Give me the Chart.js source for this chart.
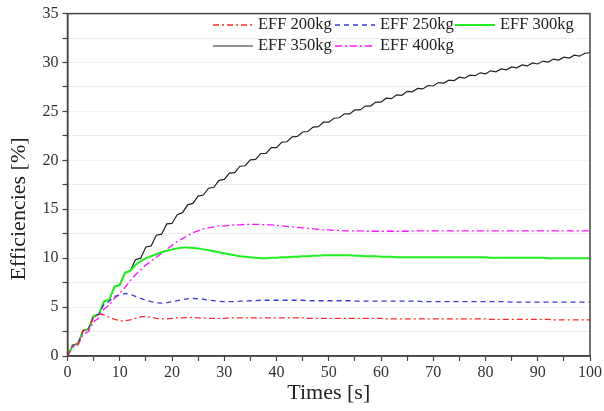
<!DOCTYPE html>
<html>
<head>
<meta charset="utf-8">
<script src="https://cdn.jsdelivr.net/npm/chart.js@4"></script>
<style>
  html, body { margin: 0; padding: 0; background: #fff; }
  #wrap { width: 604px; height: 411px; }
</style>
</head>
<body>
<div id="wrap"><canvas id="chart" width="604" height="411"></canvas></div>
<script>
// time axis, one sample per second
const times = Array.from({ length: 101 }, (_, i) => i);

const seriesLabels = ['EFF 200kg', 'EFF 250kg', 'EFF 300kg', 'EFF 350kg', 'EFF 400kg'];

const eff200 = [
  0, 1.1, 1.25, 2.6, 2.75, 3.9, 4.3, 4.2, 3.95, 3.75,
  3.6, 3.6, 3.7, 3.85, 4.0, 4.05, 3.95, 3.85, 3.8, 3.8,
  3.85, 3.9, 3.9, 3.95, 3.95, 3.9, 3.9, 3.85, 3.85, 3.85,
  3.85, 3.9, 3.9, 3.9, 3.9, 3.9, 3.9, 3.9, 3.9, 3.9,
  3.9, 3.9, 3.9, 3.9, 3.9, 3.9, 3.85, 3.85, 3.85, 3.85,
  3.85, 3.85, 3.85, 3.85, 3.85, 3.85, 3.85, 3.85, 3.85, 3.85,
  3.85, 3.8, 3.8, 3.8, 3.8, 3.8, 3.8, 3.8, 3.8, 3.8,
  3.8, 3.8, 3.8, 3.8, 3.8, 3.8, 3.8, 3.8, 3.8, 3.8,
  3.8, 3.75, 3.75, 3.75, 3.75, 3.75, 3.75, 3.75, 3.75, 3.75,
  3.75, 3.75, 3.75, 3.7, 3.7, 3.7, 3.7, 3.7, 3.7, 3.7,
  3.7
];

const eff250 = [
  0, 1.1, 1.25, 2.6, 2.75, 4.1, 4.25, 5.3, 5.6, 6.1,
  6.2, 6.4, 6.3, 6.1, 5.9, 5.7, 5.55, 5.45, 5.4, 5.45,
  5.55, 5.65, 5.75, 5.85, 5.9, 5.85, 5.8, 5.7, 5.65, 5.6,
  5.55, 5.55, 5.55, 5.6, 5.6, 5.65, 5.65, 5.7, 5.7, 5.7,
  5.7, 5.7, 5.7, 5.7, 5.7, 5.7, 5.65, 5.65, 5.65, 5.65,
  5.65, 5.65, 5.65, 5.65, 5.65, 5.6, 5.6, 5.6, 5.6, 5.6,
  5.6, 5.6, 5.6, 5.6, 5.6, 5.6, 5.6, 5.6, 5.55, 5.55,
  5.55, 5.55, 5.55, 5.55, 5.55, 5.55, 5.55, 5.55, 5.55, 5.55,
  5.55, 5.55, 5.55, 5.55, 5.55, 5.5, 5.5, 5.5, 5.5, 5.5,
  5.5, 5.5, 5.5, 5.5, 5.5, 5.5, 5.5, 5.5, 5.5, 5.5,
  5.5
];

const eff300 = [
  0, 1.1, 1.25, 2.6, 2.75, 4.1, 4.25, 5.6, 5.75, 7.1,
  7.25, 8.5, 8.7, 9.3, 9.7, 10.0, 10.2, 10.4, 10.6, 10.75,
  10.9, 11.0, 11.1, 11.1, 11.05, 11.0, 10.9, 10.8, 10.7, 10.6,
  10.5, 10.4, 10.3, 10.2, 10.15, 10.1, 10.05, 10.0, 10.0, 10.05,
  10.05, 10.1, 10.1, 10.15, 10.15, 10.2, 10.2, 10.25, 10.25, 10.3,
  10.3, 10.3, 10.3, 10.3, 10.3, 10.25, 10.25, 10.2, 10.2, 10.2,
  10.15, 10.15, 10.15, 10.1, 10.1, 10.1, 10.1, 10.1, 10.1, 10.1,
  10.1, 10.1, 10.1, 10.1, 10.1, 10.1, 10.1, 10.1, 10.1, 10.1,
  10.1, 10.05, 10.05, 10.05, 10.05, 10.05, 10.05, 10.05, 10.05, 10.05,
  10.05, 10.05, 10.0, 10.0, 10.0, 10.0, 10.0, 10.0, 10.0, 10.0,
  10.0
];

const eff350 = [
  0, 1.1, 1.25, 2.6, 2.75, 4.1, 4.25, 5.6, 5.75, 7.1,
  7.25, 8.5, 8.7, 9.85, 10.0, 11.15, 11.25, 12.35, 12.45, 13.5,
  13.55, 14.45, 14.65, 15.45, 15.6, 16.35, 16.45, 17.15, 17.25, 17.95,
  18.05, 18.7, 18.75, 19.4, 19.45, 20.05, 20.1, 20.7, 20.7, 21.3,
  21.3, 21.85, 21.9, 22.4, 22.45, 22.9, 22.95, 23.4, 23.45, 23.9,
  23.9, 24.3, 24.35, 24.75, 24.75, 25.15, 25.15, 25.55, 25.55, 25.95,
  25.95, 26.35, 26.3, 26.7, 26.65, 27.05, 27.0, 27.35, 27.3, 27.65,
  27.6, 27.95, 27.9, 28.2, 28.15, 28.5, 28.4, 28.7, 28.65, 28.95,
  28.85, 29.15, 29.05, 29.35, 29.25, 29.55, 29.45, 29.75, 29.65, 29.95,
  29.85, 30.15, 30.05, 30.35, 30.25, 30.55, 30.45, 30.75, 30.65, 30.95,
  31.0
];

const eff400 = [
  0, 0.9, 1.1, 2.2, 2.5, 3.5, 3.9, 4.8, 5.2, 5.9,
  6.4, 7.0, 7.7, 8.3, 8.8, 9.3, 9.7, 10.1, 10.5, 10.9,
  11.3, 11.7, 12.0, 12.3, 12.6, 12.8, 13.0, 13.1, 13.2, 13.3,
  13.3, 13.35, 13.4, 13.4, 13.45, 13.45, 13.45, 13.45, 13.4, 13.4,
  13.35, 13.3, 13.25, 13.2, 13.15, 13.1, 13.05, 13.0, 12.95, 12.9,
  12.9, 12.85, 12.85, 12.8, 12.8, 12.8, 12.8, 12.75, 12.75, 12.75,
  12.75, 12.75, 12.75, 12.75, 12.75, 12.75, 12.8, 12.8, 12.8, 12.8,
  12.8, 12.8, 12.8, 12.8, 12.8, 12.8, 12.8, 12.8, 12.8, 12.8,
  12.8, 12.8, 12.8, 12.8, 12.8, 12.8, 12.8, 12.8, 12.8, 12.8,
  12.8, 12.8, 12.8, 12.8, 12.8, 12.8, 12.8, 12.8, 12.8, 12.8,
  12.8
];

const seriesValues = [eff200, eff250, eff300, eff350, eff400];
const seriesColors = ['#ff2a2a', '#3a3ad0', '#22ee22', '#222222', '#ff10ff'];
const seriesDash = [[6, 3, 2, 3], [5, 4], [], [], [7, 3, 2, 3]];
const seriesWidth = [1.3, 1.3, 2, 1.2, 1.3];

const serif = "'Liberation Serif', 'Times New Roman', serif";
const yTitle = 'Efficiencies [%]';

// box round the plot area
const framePlugin = {
  id: 'frame',
  afterDatasetsDraw(chart) {
    const { ctx, chartArea: a } = chart;
    ctx.save();
    ctx.strokeStyle = '#444';
    ctx.lineWidth = 1.5;
    ctx.strokeRect(a.left, a.top, a.right - a.left, a.bottom - a.top);
    ctx.restore();
  }
};

// y title sits a bit below the middle in the original
const yTitlePlugin = {
  id: 'yTitle',
  afterDraw(chart) {
    const { ctx } = chart;
    ctx.save();
    ctx.translate(19, 209);
    ctx.rotate(-Math.PI / 2);
    ctx.font = '22px ' + serif;
    ctx.fillStyle = '#222';
    ctx.textAlign = 'center';
    ctx.textBaseline = 'middle';
    ctx.fillText(yTitle, 0, 0);
    ctx.restore();
  }
};

// legend inside the plot, 3 columns x 2 rows
const legendPlugin = {
  id: 'boxLegend',
  afterDraw(chart) {
    const { ctx } = chart;
    const colX = [213, 335, 455];
    const rowY = [25, 46];
    ctx.save();
    ctx.font = '16.5px ' + serif;
    ctx.textBaseline = 'middle';
    chart.data.datasets.forEach((ds, i) => {
      const x = colX[i % 3];
      const y = rowY[Math.floor(i / 3)];
      ctx.strokeStyle = ds.borderColor;
      ctx.lineWidth = ds.borderWidth;
      ctx.setLineDash(ds.borderDash || []);
      ctx.beginPath();
      ctx.moveTo(x, y);
      ctx.lineTo(x + 40, y);
      ctx.stroke();
      ctx.setLineDash([]);
      ctx.fillStyle = '#222';
      ctx.fillText(ds.label, x + 45, y);
    });
    ctx.restore();
  }
};

const datasets = seriesLabels.map((label, i) => ({
  label: label,
  data: times.map((t, j) => ({ x: t, y: seriesValues[i][j] })),
  borderColor: seriesColors[i],
  borderDash: seriesDash[i],
  borderWidth: seriesWidth[i],
  pointRadius: 0,
  tension: 0,
  fill: false
}));

new Chart(document.getElementById('chart').getContext('2d'), {
  type: 'line',
  data: { datasets: datasets },
  options: {
    responsive: false,
    animation: false,
    layout: { padding: { top: 12, right: 14, left: 0, bottom: 0 } },
    plugins: {
      legend: { display: false },
      tooltip: { enabled: false }
    },
    scales: {
      x: {
        type: 'linear',
        min: 0,
        max: 100,
        afterFit(scale) { scale.height = 55; },
        ticks: {
          stepSize: 5,
          autoSkip: false,
          maxRotation: 0,
          padding: 2,
          color: '#333',
          font: { family: serif, size: 16 },
          callback: v => (v % 10 === 0 ? v : '')
        },
        grid: {
          drawOnChartArea: false,
          drawTicks: true,
          tickLength: 5,
          tickColor: '#444',
          tickWidth: 1.2
        },
        border: { color: '#444', width: 1.5 },
        title: {
          display: true,
          text: 'Times [s]',
          color: '#222',
          font: { family: serif, size: 22 },
          padding: { top: 0, bottom: 5 }
        }
      },
      y: {
        min: 0,
        max: 35,
        afterFit(scale) { scale.width = 67.5; },
        ticks: {
          stepSize: 2.5,
          autoSkip: false,
          padding: 4,
          color: '#333',
          font: { family: serif, size: 16 },
          callback: v => (v % 5 === 0 ? v : '')
        },
        grid: {
          color: ctx => (ctx.tick && ctx.tick.value % 5 === 0 ? '#ecebd8' : '#dcdcdc'),
          lineWidth: 1,
          drawTicks: true,
          tickLength: 5,
          tickColor: '#444',
          tickWidth: 1.2,
          tickBorderDash: []
        },
        border: { color: '#444', width: 1.5, dash: [2, 2] },
        title: { display: false }
      }
    }
  },
  plugins: [framePlugin, yTitlePlugin, legendPlugin]
});
</script>
</body>
</html>
